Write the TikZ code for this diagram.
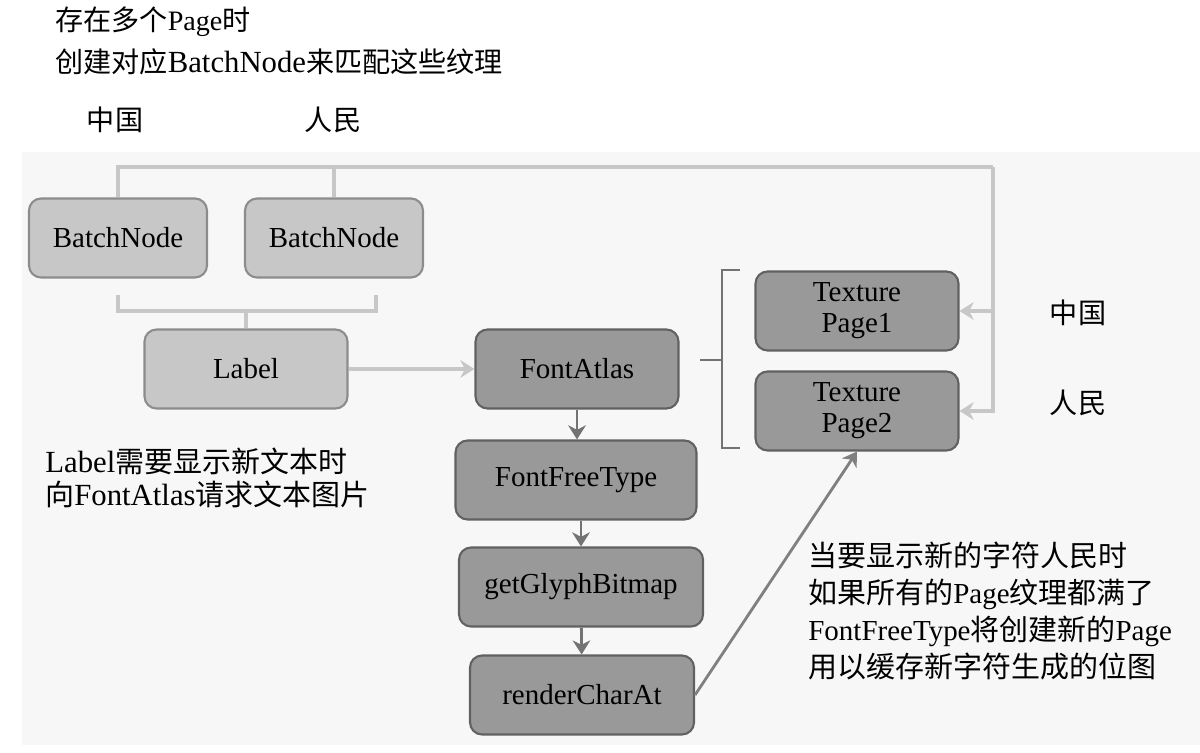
\documentclass[tikz,border=0pt]{standalone}
\usepackage{fontspec}
\setmainfont{Liberation Serif}
\newfontfamily\cjk{Noto Sans CJK SC}
\usetikzlibrary{arrows.meta}
\begin{document}
\begin{tikzpicture}[x=0.02cm, y=-0.02cm, >={Stealth[length=8pt,width=10pt,inset=2.5pt]}, box/.style={
		% The shape:
		rectangle, rounded corners=0.24cm,
		% The size:
		minimum height=1.58cm,
		% The border
		line width=1.2pt, draw=black!45,
		% The filling
		fill=black!22,
		font=\fontsize{16.5}{17.6}\selectfont},
	darkbox/.style={box, draw=black!62, fill=black!40},
	wire/.style={line width=2.2pt, draw=black!22},
	step arrow/.style={line width=1.6pt, draw=black!55},
	note/.style={anchor=west, align=left, inner sep=0pt}]
    \useasboundingbox (0,0) rectangle (1200,753);
    \fill[black!3] (22,152) rectangle (1200,745);
    % top texts
    \node [note, font=\fontsize{16}{23.8}\selectfont] (title) at (55,41) {{\cjk 存在多个}Page{\cjk 时}\\{\cjk 创建对应}{\fontsize{17.5}{23.8}\selectfont BatchNode}{\cjk 来匹配这些纹理}};
    \node [font=\cjk\fontsize{16}{19}\selectfont] (zg1) at (115,120) {中国};
    \node [font=\cjk\fontsize{16}{19}\selectfont] (rm1) at (333,120) {人民};
    % batch nodes and label
    \node [box, minimum width=3.56cm] (bn1) at (118,238) {BatchNode};
    \node [box, minimum width=3.56cm] (bn2) at (334,238) {BatchNode};
    \node [box, minimum width=4.06cm] (label) at (246,369) {Label};
    % font atlas chain
    \node [darkbox, minimum width=4.06cm] (atlas) at (577,369) {FontAtlas};
    \node [darkbox, minimum width=4.82cm] (freetype) at (576,480) {FontFreeType};
    \node [darkbox, minimum width=4.88cm] (glyph) at (581,587) {getGlyphBitmap};
    \node [darkbox, minimum width=4.48cm] (render) at (582,695) {renderCharAt};
    % texture pages
    \node [darkbox, minimum width=4.06cm, align=center] (page1) at (857,311) {Texture\\Page1};
    \node [darkbox, minimum width=4.06cm, align=center] (page2) at (857,411) {Texture\\Page2};
    \node [font=\cjk\fontsize{16}{19}\selectfont] (zg2) at (1078,313) {中国};
    \node [font=\cjk\fontsize{16}{19}\selectfont] (rm2) at (1078,403) {人民};
    % top wires
    \coordinate (hub) at (993,167);
    \draw [wire] (bn1.north) |- (hub);
    \draw [wire] (bn2.north) -- (bn2.north |- hub);
    \draw [wire, ->] (hub) |- (page1.east);
    \draw [wire, ->] (hub) |- (page2.east);
    % bracket under batch nodes
    \coordinate (bl) at (118,295);
    \coordinate (br) at (376,295);
    \coordinate (join) at (246,311);
    \draw [wire] (bl) |- (br |- join) -- (br);
    \draw [wire] (join) -- (label.north);
    \draw [wire, ->] (label) -- (atlas);
    % steps
    \draw [step arrow, ->] (atlas) -- (atlas |- freetype.north);
    \draw [step arrow, ->] (freetype.south -| glyph) -- (glyph);
    \draw [step arrow, ->] (glyph) -- (render);
    \draw [line width=1.6pt, draw=black!50, ->] (render.east) -- (page2.south);
    % bracket of pages
    \coordinate (tick) at (700,360);
    \draw [line width=1.6pt, draw=black!55] (740,270) -| (722,448) -- (740,448);
    \draw [line width=1.6pt, draw=black!55] (tick) -- (tick -| 722,0);
    % notes
    \node [note, font=\fontsize{16.5}{18.7}\selectfont] (labelnote) at (45,478) {{\fontsize{17.5}{18.7}\selectfont Label}{\cjk 需要显示新文本时}\\{\cjk 向}{\fontsize{17.5}{18.7}\selectfont FontAtlas}{\cjk 请求文本图片}};
    \node [note, font=\fontsize{16.5}{21.2}\selectfont] (pagenote) at (808,611) {{\cjk 当要显示新的字符人民时}\\{\cjk 如果所有的}Page{\cjk 纹理都满了}\\FontFreeType{\cjk 将创建新的}Page\\{\cjk 用以缓存新字符生成的位图}};
\end{tikzpicture}
\end{document}
